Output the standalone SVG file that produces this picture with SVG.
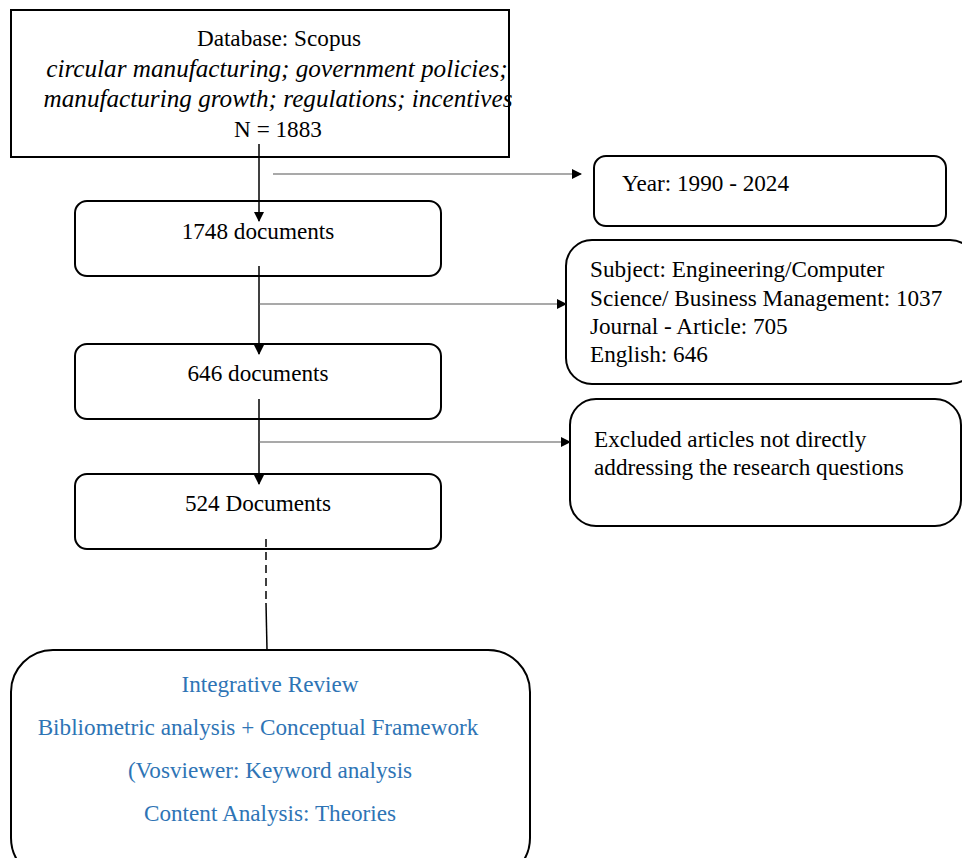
<svg xmlns="http://www.w3.org/2000/svg" width="962" height="858" viewBox="0 0 962 858">
<style>
.box{fill:#fff;stroke:#000;stroke-width:2}
.t{font-family:"Liberation Serif","Times New Roman",serif;font-size:23.2px;fill:#000}
.c{text-anchor:middle}
.i{font-style:italic;font-size:25.2px}
.b{fill:#2E74B5}
.ln{stroke:#000;stroke-width:1.5;fill:none}
.lg{stroke:#555;stroke-width:1.2;fill:none}
</style>
<defs>
<marker id="ah" markerWidth="10" markerHeight="10" refX="9" refY="5" orient="auto" markerUnits="userSpaceOnUse" viewBox="0 0 10 10">
<path d="M0,0 L10,5 L0,10 z" fill="#000"/>
</marker>
</defs>
<g id="n-scopus">
<rect class="box" x="11" y="10" width="498" height="147"/>
<text class="t c" x="279" y="46">Database: Scopus</text>
<text class="t c i" x="277" y="77">circular manufacturing; government policies;</text>
<text class="t c i" x="278" y="107">manufacturing growth; regulations; incentives</text>
<text class="t c" x="278" y="137">N = 1883</text>
</g>
<g id="n-1748">
<rect class="box" x="75" y="201" width="366" height="75" rx="12"/>
<text class="t c" x="258" y="239">1748 documents</text>
</g>
<g id="n-646">
<rect class="box" x="75" y="344" width="366" height="75" rx="12"/>
<text class="t c" x="258" y="381">646 documents</text>
</g>
<g id="n-524">
<rect class="box" x="75" y="474" width="366" height="75" rx="12"/>
<text class="t c" x="258" y="511">524 Documents</text>
</g>
<g id="n-year">
<rect class="box" x="594" y="156" width="352" height="70" rx="12"/>
<text class="t" x="622" y="191">Year: 1990 - 2024</text>
</g>
<g id="n-subject">
<rect class="box" x="566" y="240" width="410" height="144" rx="26"/>
<text class="t" x="590" y="277">Subject: Engineering/Computer</text>
<text class="t" x="590" y="306">Science/ Business Management: 1037</text>
<text class="t" x="590" y="334">Journal - Article: 705</text>
<text class="t" x="590" y="362">English: 646</text>
</g>
<g id="n-excluded">
<rect class="box" x="570" y="399" width="391" height="127" rx="26"/>
<text class="t" x="594" y="447">Excluded articles not directly</text>
<text class="t" x="594" y="475">addressing the research questions</text>
</g>
<g id="n-review">
<rect class="box" x="11" y="650" width="519" height="230" rx="42"/>
<text class="t c b" x="270" y="692">Integrative Review</text>
<text class="t c b" x="258" y="735">Bibliometric analysis + Conceptual Framework</text>
<text class="t c b" x="270" y="778">(Vosviewer: Keyword analysis</text>
<text class="t c b" x="270" y="821">Content Analysis: Theories</text>
</g>
<g id="connectors">
<line class="ln" x1="259" y1="144" x2="259" y2="221" marker-end="url(#ah)"/>
<line class="lg" x1="273" y1="174" x2="581" y2="174" marker-end="url(#ah)"/>
<line class="ln" x1="259" y1="266" x2="259" y2="354" marker-end="url(#ah)"/>
<line class="lg" x1="259" y1="304" x2="566" y2="304" marker-end="url(#ah)"/>
<line class="ln" x1="259" y1="399" x2="259" y2="484" marker-end="url(#ah)"/>
<line class="lg" x1="259" y1="442" x2="570" y2="442" marker-end="url(#ah)"/>
<line class="ln" x1="266" y1="539" x2="266" y2="603" stroke-dasharray="8,5"/>
<line class="ln" x1="266" y1="603" x2="267" y2="650"/>
</g>
</svg>
